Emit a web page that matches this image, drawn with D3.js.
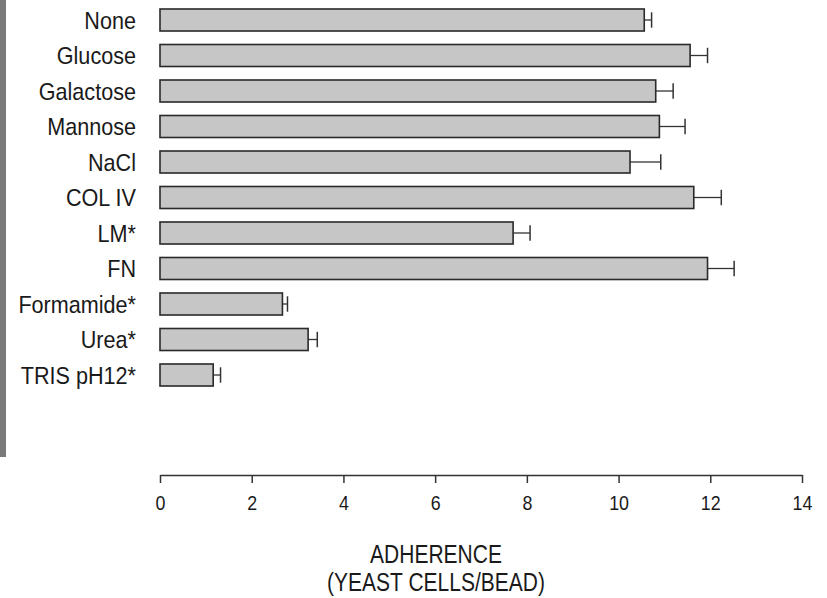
<!DOCTYPE html>
<html>
<head>
<meta charset="utf-8">
<script src="https://cdn.jsdelivr.net/npm/d3@7"></script>
<style>
  html, body { margin: 0; padding: 0; background: #fff; }
  svg { display: block; }
  text { font-family: "Liberation Sans", Arial, sans-serif; fill: #1a1a1a; }
</style>
</head>
<body>
<svg id="chart" width="827" height="598"></svg>
<script>
const categories = ["None", "Glucose", "Galactose", "Mannose", "NaCl", "COL IV", "LM*", "FN", "Formamide*", "Urea*", "TRIS pH12*"];
const values =     [10.56, 11.56, 10.81, 10.89, 10.25, 11.64, 7.70, 11.94, 2.67, 3.23, 1.16];
const errors =     [0.16, 0.38, 0.38, 0.56, 0.67, 0.60, 0.37, 0.58, 0.11, 0.20, 0.16];
const tickValues = [0, 2, 4, 6, 8, 10, 12, 14];
const axisTitle = ["ADHERENCE", "(YEAST CELLS/BEAD)"];

const svg = d3.select("#chart");

// scan-edge strip on the left
svg.append("rect").attr("x", 0).attr("y", 0).attr("width", 6).attr("height", 457)
  .attr("fill", "#7a7a7a");

const x = d3.scaleLinear().domain([0, 14]).range([160, 802]);
const y = d3.scaleBand().domain(categories).range([2.25, 392.75])
  .paddingInner(0.38).paddingOuter(0.19);

const data = categories.map((c, i) => ({ c, v: values[i], e: errors[i] }));

const g = svg.append("g");

// error bars
const eb = g.selectAll("g.err").data(data).join("g").attr("class", "err");
eb.append("line")
  .attr("x1", d => x(d.v)).attr("x2", d => x(d.v + d.e))
  .attr("y1", d => y(d.c) + y.bandwidth() / 2).attr("y2", d => y(d.c) + y.bandwidth() / 2)
  .attr("stroke", "#333").attr("stroke-width", 1.3);
eb.append("line")
  .attr("x1", d => x(d.v + d.e)).attr("x2", d => x(d.v + d.e))
  .attr("y1", d => y(d.c) + y.bandwidth() * 0.15).attr("y2", d => y(d.c) + y.bandwidth() * 0.85)
  .attr("stroke", "#333").attr("stroke-width", 1.5);

// bars
g.selectAll("rect.bar").data(data).join("rect").attr("class", "bar")
  .attr("x", x(0)).attr("y", d => y(d.c))
  .attr("width", d => x(d.v) - x(0)).attr("height", y.bandwidth())
  .attr("fill", "#c6c6c6").attr("stroke", "#2a2a2a").attr("stroke-width", 1.6);

// category labels (condensed look)
g.selectAll("text.cat").data(categories).join("text").attr("class", "cat")
  .attr("transform", d => `translate(136,${y(d) + y.bandwidth() / 2}) scale(0.9,1)`)
  .attr("dy", "0.36em").attr("text-anchor", "end")
  .attr("font-size", 24).text(d => d);

// x axis
const ax = svg.append("g").attr("transform", "translate(0,475)")
  .call(d3.axisBottom(x).tickValues(tickValues).tickSize(8).tickSizeOuter(0).tickPadding(12)
    .tickFormat(d3.format("d")));
ax.select(".domain").attr("stroke", "#333").attr("stroke-width", 1.5);
ax.selectAll(".tick line").attr("stroke", "#333").attr("stroke-width", 1.5);
ax.selectAll(".tick text")
  .attr("font-size", 21).attr("font-family", "Liberation Sans, Arial, sans-serif")
  .attr("fill", "#1a1a1a")
  .attr("transform", "scale(0.85,1)")
  .attr("x", 0).attr("y", 20);

// axis title
svg.selectAll("text.title").data(axisTitle).join("text").attr("class", "title")
  .attr("transform", (d, i) => `translate(436,${563 + i * 28}) scale(0.84,1)`)
  .attr("text-anchor", "middle").attr("font-size", 25).text(d => d);
</script>
</body>
</html>
